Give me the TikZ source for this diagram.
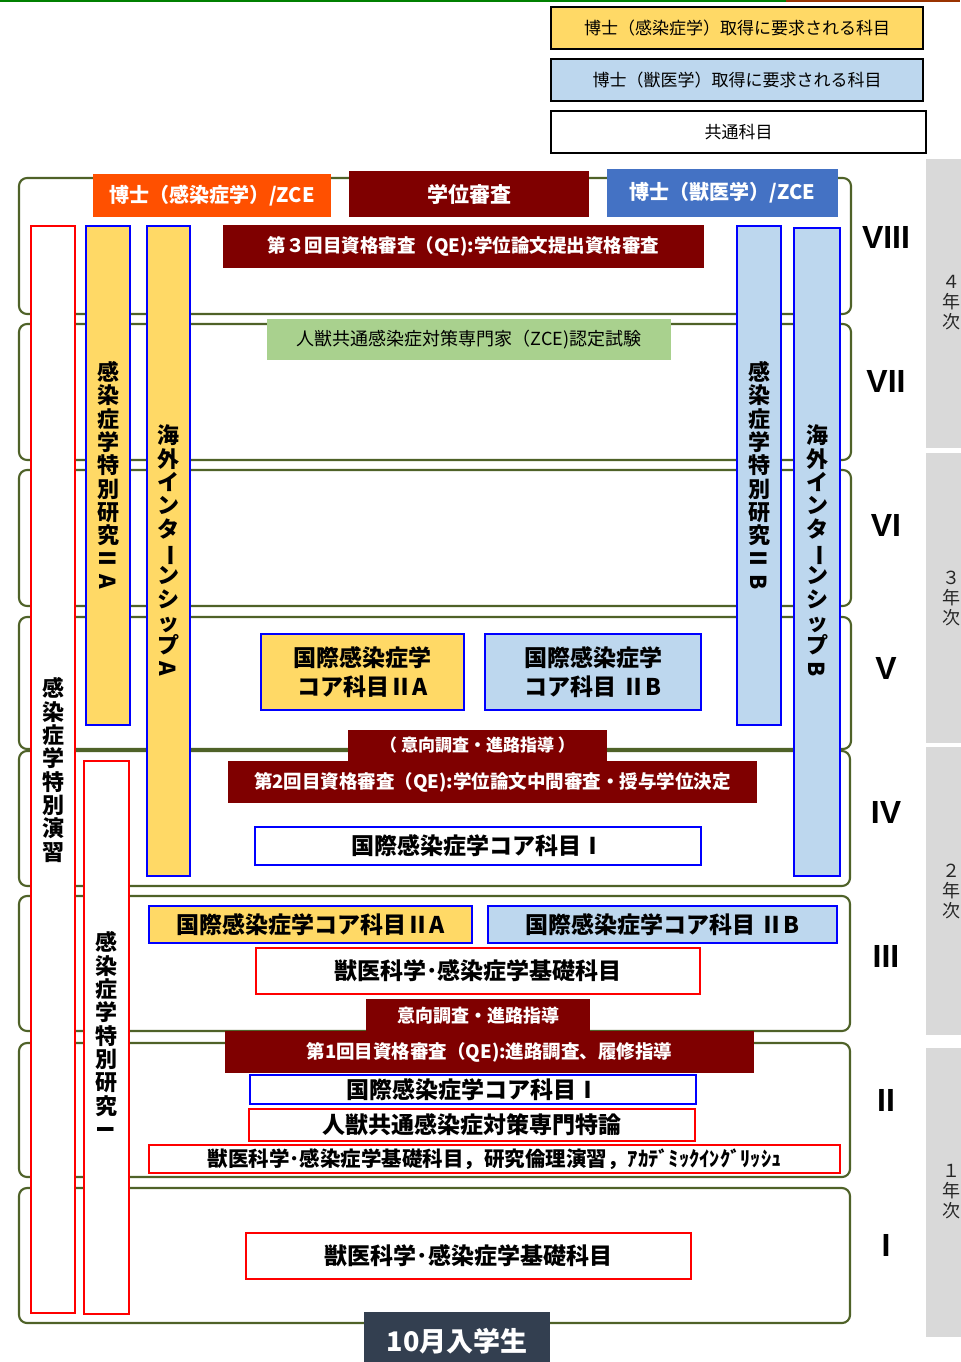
\documentclass[tikz,border=0pt]{standalone}
\usepackage{fontspec}
\usepackage{graphicx}
\setmainfont{Noto Sans CJK JP}
\newfontfamily\romfont{Liberation Sans}
\definecolor{frameg}{HTML}{4F6228}
\definecolor{dred}{HTML}{7F0000}
\definecolor{hdrorange}{HTML}{FF5000}
\definecolor{hdrblue}{HTML}{4472C4}
\definecolor{yel}{HTML}{FFD966}
\definecolor{lblue}{HTML}{BDD7EE}
\definecolor{zcegreen}{HTML}{A9D18E}
\definecolor{bblue}{HTML}{0000FF}
\definecolor{rred}{HTML}{FF0000}
\definecolor{slate}{HTML}{333F50}
\definecolor{yeargray}{HTML}{D9D9D9}
\definecolor{topgreen}{HTML}{008000}
\definecolor{topbrown}{HTML}{993300}
\newcommand\px[1]{\fontsize{\dimexpr #1pt*3/4\relax}{\dimexpr #1pt*9/8\relax}\selectfont}
\newcommand\vfs[2]{\fontsize{\dimexpr #1pt*3/4\relax}{\dimexpr #2pt*3/4\relax}\selectfont}
\newcommand\rt[1]{\rotatebox[origin=c]{-90}{#1}}
\newcommand\placebox[7]{\node[#2, minimum width={(#5-#3)*0.75pt}, minimum height={(#6-#4)*0.75pt}] (#1) at ({(#3+#5)/2},{(#4+#6)/2}) {#7};}
\tikzset{
  every node/.style={inner sep=0pt, outer sep=0pt},
  frame/.style={draw=frameg, line width=1.6pt, rounded corners=6pt},
  legend/.style={draw=black, line width=1.5pt, font=\px{17}},
  hdr/.style={text=white, font=\bfseries\px{20}},
  qe/.style={fill=dred, text=white, font=\bfseries\px{18.5}},
  survey/.style={fill=dred, text=white, font=\bfseries\px{17}},
  bluebd/.style={draw=bblue, line width=1.9pt},
  redbd/.style={draw=rred, line width=1.9pt},
  core/.style={font=\bfseries\px{23}},
  roman/.style={font=\romfont\bfseries\px{32}},
  yearcol/.style={fill=yeargray},
  yeartext/.style={align=center, font=\vfs{18}{20}, text=black!85},
  vtext/.style={align=center, font=\bfseries\vfs{22}{23.3}},
}
\begin{document}
\begin{tikzpicture}[x=0.75pt,y=-0.75pt]
\fill[white] (0,0) rectangle (960,1362);
\useasboundingbox (0,0) rectangle (960,1362);
\draw[line width=1.5pt, topgreen] (0,1) -- (786,1);
\draw[line width=1.5pt, topbrown] (786,1) -- (960,1);

% legend
\placebox{lgA}{legend, fill=yel}{551}{7}{923}{49}{博士（感染症学）取得に要求される科目}
\placebox{lgB}{legend, fill=lblue}{551}{59}{923}{101}{博士（獣医学）取得に要求される科目}
\placebox{lgC}{legend, fill=white}{551}{111}{926}{153}{共通科目}

% year columns
\placebox{yr4}{yearcol}{926}{159}{976}{448}{}
\placebox{yr3}{yearcol}{926}{453}{976}{743}{}
\placebox{yr2}{yearcol}{926}{747}{976}{1035}{}
\placebox{yr1}{yearcol}{926}{1048}{976}{1337}{}
\node[yeartext] (yt4) at (951,303) {４\\年\\次};
\node[yeartext] (yt3) at (951,598) {３\\年\\次};
\node[yeartext] (yt2) at (951,891) {２\\年\\次};
\node[yeartext] (yt1) at (951,1192) {１\\年\\次};

% semester frames
\placebox{f8}{frame}{19}{178}{851}{314}{}
\placebox{f7}{frame}{19}{324}{851}{460}{}
\placebox{f6}{frame}{19}{470}{851}{606}{}
\placebox{f5}{frame}{19}{617}{851}{749}{}
\placebox{f4}{frame}{19}{751}{850}{886}{}
\placebox{f3}{frame}{19}{896}{850}{1031}{}
\placebox{f2}{frame}{19}{1043}{850}{1177}{}
\placebox{f1}{frame}{19}{1188}{850}{1323}{}

% roman numerals
\node[roman] (r8) at (886,237) {VIII};
\node[roman] (r7) at (886,381) {VII};
\node[roman] (r6) at (886,525) {VI};
\node[roman] (r5) at (886,668) {V};
\node[roman] (r4) at (886,812) {IV};
\node[roman] (r3) at (886,956) {III};
\node[roman] (r2) at (886,1100) {II};
\node[roman] (r1) at (886,1245) {I};

% vertical bars
\placebox{barE}{redbd, fill=white}{31}{226}{75}{1313}{}
\placebox{barIIA}{bluebd, fill=yel}{86}{226}{130}{725}{}
\placebox{barIntA}{bluebd, fill=yel}{147}{226}{190}{876}{}
\placebox{barI}{redbd, fill=white}{84}{761}{129}{1314}{}
\placebox{barIIB}{bluebd, fill=lblue}{737}{226}{781}{725}{}
\placebox{barIntB}{bluebd, fill=lblue}{794}{228}{840}{876}{}
\node[vtext] (tE) at (53,770) {感\\染\\症\\学\\特\\別\\演\\習};
\node[vtext] (tIIA) at (108,476) {感\\染\\症\\学\\特\\別\\研\\究\\\rt{Ⅱ}\\\rt{A}};
\node[vtext] (tIntA) at (168,551) {海\\外\\イ\\ン\\タ\\\rt{ー}\\ン\\シ\\ッ\\プ\\\rt{A}};
\node[vtext] (tI) at (106,1036) {感\\染\\症\\学\\特\\別\\研\\究\\\rt{Ⅰ}};
\node[vtext] (tIIB) at (759,476) {感\\染\\症\\学\\特\\別\\研\\究\\\rt{Ⅱ}\\\rt{B}};
\node[vtext] (tIntB) at (817,551) {海\\外\\イ\\ン\\タ\\\rt{ー}\\ン\\シ\\ッ\\プ\\\rt{B}};

% headers
\placebox{hA}{hdr, fill=hdrorange}{93}{174}{331}{217}{博士（感染症学）/ZCE}
\placebox{hDeg}{hdr, fill=dred, font=\bfseries\px{21}}{349}{171}{589}{217}{学位審査}
\placebox{hB}{hdr, fill=hdrblue}{607}{169}{838}{217}{博士（獣医学）/ZCE}
\placebox{qe3}{qe}{223}{225}{704}{268}{第３回目資格審査（QE):学位論文提出資格審査}
\placebox{zce}{fill=zcegreen, font=\px{18}}{267}{319}{671}{360}{人獣共通感染症対策専門家（ZCE)認定試験}

% semester V
\placebox{c5a}{bluebd, fill=yel, align=center, font=\bfseries\vfs{23}{29}}{261}{634}{464}{710}{国際感染症学\\コア科目ⅡA}
\placebox{c5b}{bluebd, fill=lblue, align=center, font=\bfseries\vfs{23}{29}}{485}{634}{701}{710}{国際感染症学\\コア科目 ⅡB}

% semester IV
\placebox{sv2}{survey}{348}{730}{607}{761}{（ 意向調査・進路指導 ）}
\placebox{qe2}{qe}{228}{761}{757}{803}{第2回目資格審査（QE):学位論文中間審査・授与学位決定}
\placebox{c4}{bluebd, fill=white, core}{255}{827}{701}{865}{国際感染症学コア科目Ⅰ}

% semester III
\placebox{c3a}{bluebd, fill=yel, core}{149}{906}{472}{943}{国際感染症学コア科目ⅡA}
\placebox{c3b}{bluebd, fill=lblue, core}{488}{906}{837}{943}{国際感染症学コア科目 ⅡB}
\placebox{b3}{redbd, fill=white, core}{256}{948}{700}{994}{獣医科学･感染症学基礎科目}
\placebox{sv1}{survey, font=\bfseries\px{18}}{366}{999}{590}{1032}{意向調査・進路指導}

% semester II
\placebox{qe1}{qe}{225}{1031}{754}{1073}{第1回目資格審査（QE):進路調査、履修指導}
\placebox{c2}{bluebd, fill=white, core}{250}{1075}{696}{1104}{国際感染症学コア科目Ⅰ}
\placebox{z2}{redbd, fill=white, core}{249}{1109}{695}{1141}{人獣共通感染症対策専門特論}
\placebox{b2}{redbd, fill=white, font=\bfseries\px{20.5}}{149}{1145}{840}{1173}{獣医科学･感染症学基礎科目，研究倫理演習，ｱｶﾃﾞﾐｯｸｲﾝｸﾞﾘｯｼｭ}

% semester I
\placebox{b1}{redbd, fill=white, core}{246}{1233}{691}{1279}{獣医科学･感染症学基礎科目}

% entry label
\placebox{entry}{fill=slate, text=white, font=\bfseries\px{27}}{364}{1312}{550}{1370}{10月入学生}
\end{tikzpicture}
\end{document}
